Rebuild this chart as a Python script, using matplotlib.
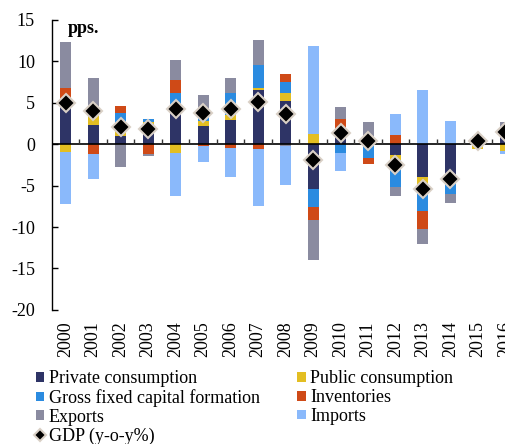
import numpy as np
import matplotlib.pyplot as plt

plt.rcParams["font.family"] = ["Liberation Serif", "DejaVu Serif"]
plt.rcParams["axes.unicode_minus"] = False

anos = [str(a) for a in range(2000, 2017)]

privado = [5.3, 2.3, 1.0, 2.4, 3.8, 2.2, 2.9, 6.5, 5.2, -5.4, 1.2, 0.0, -1.3, -4.0, -4.7, 0.7, 2.0]
publico = [-0.9, 1.3, 0.8, 0.3, -1.1, 0.6, 0.6, 0.3, 1.0, 1.2, 0.0, 0.0, -0.6, -1.0, 0.0, -0.6, -0.8]
fbcf = [0.0, 0.0, 2.0, 0.4, 2.4, 0.8, 2.7, 2.8, 1.3, -2.2, -1.05, -1.7, -3.3, -3.0, -1.35, 0.3, 0.0]
estoques = [1.5, -1.2, 0.8, -1.2, 1.5, -0.2, -0.5, -0.6, 1.0, -1.5, 1.8, -0.7, 1.1, -2.2, 0.0, 0.0, 0.0]
exportacoes = [5.5, 4.4, -2.7, -0.2, 2.5, 2.4, 1.8, 3.0, -0.2, -4.9, 1.5, 2.7, -1.0, -1.8, -1.05, 0.0, 0.7]
importacoes = [-6.3, -2.95, 0.0, 0.0, -5.1, -1.9, -3.45, -6.9, -4.7, 10.6, -2.15, 0.0, 2.6, 6.6, 2.8, 0.0, -0.4]
pib = [5.0, 4.0, 2.1, 1.8, 4.2, 3.8, 4.2, 5.1, 3.6, -1.85, 1.3, 0.4, -2.45, -5.4, -4.2, 0.4, 1.5]

series = [
    ("Private consumption", privado, "#2e3466"),
    ("Public consumption", publico, "#e3be22"),
    ("Gross fixed capital formation", fbcf, "#2b8be0"),
    ("Inventories", estoques, "#cf4a17"),
    ("Exports", exportacoes, "#8a8ba0"),
    ("Imports", importacoes, "#8ab9fb"),
]

x = np.arange(len(anos))

fig = plt.figure(figsize=(5.06, 4.44), dpi=100)
ax = fig.add_axes([0.102, 0.302, 0.898, 0.653])

# empilhamento separado para positivos e negativos
base_pos = np.zeros(len(anos))
base_neg = np.zeros(len(anos))
handles = {}
for nome, valores, cor in series:
    v = np.array(valores)
    base = np.where(v >= 0, base_pos, base_neg)
    barras = ax.bar(x, v, width=0.4, bottom=base, color=cor, label=nome, zorder=2)
    handles[nome] = barras
    base_pos = base_pos + np.where(v > 0, v, 0)
    base_neg = base_neg + np.where(v < 0, v, 0)

ax.axhline(0, color="black", lw=1.2, zorder=3)
ax.vlines(x[:-1] + 0.5, 0, 0.6, color="#333333", lw=1, zorder=3)

linha_pib, = ax.plot(
    x, pib, linestyle="none", marker="D", markersize=9.5,
    markerfacecolor="black", markeredgecolor="#d9d0c6",
    markeredgewidth=1.5, label="GDP (y-o-y%)", zorder=4
)

ax.set_xlim(-0.51, 16.02)
ax.set_ylim(-20, 15)
ax.set_yticks(range(-20, 16, 5))
ax.set_xticks(x)
ax.set_xticklabels(anos, rotation=90)
ax.tick_params(axis="x", length=0, pad=8, labelsize=13)
ax.tick_params(axis="y", direction="in", length=4, width=1, pad=12, labelsize=13)

for lado in ["top", "right", "bottom"]:
    ax.spines[lado].set_visible(False)
ax.spines["left"].set_linewidth(1)

ax.text(0.035, 0.972, "pps.", transform=ax.transAxes, fontsize=13,
        fontweight="bold", va="center", ha="left", zorder=5)

ordem = [
    handles["Private consumption"],
    handles["Gross fixed capital formation"],
    handles["Exports"],
    linha_pib,
    handles["Public consumption"],
    handles["Inventories"],
    handles["Imports"],
]
rotulos = [h.get_label() for h in ordem]

fig.legend(
    ordem, rotulos, ncol=2, loc="upper left",
    bbox_to_anchor=(0.071, 0.166), frameon=False, fontsize=13,
    handlelength=0.45, handleheight=0.45, handletextpad=0.25,
    labelspacing=0.1, columnspacing=2.1, borderpad=0, borderaxespad=0,
    markerscale=0.6
)

fig.savefig("out.png", dpi=100)
